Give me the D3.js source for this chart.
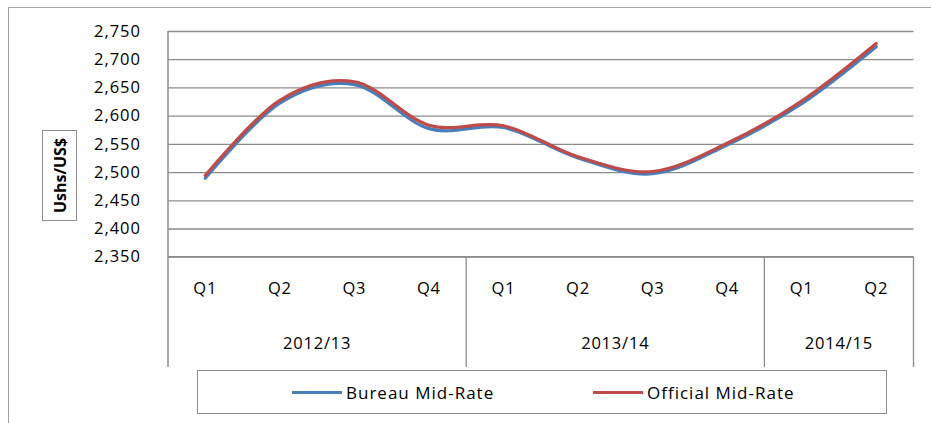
<!DOCTYPE html>
<html><head><meta charset="utf-8">
<script src="https://cdn.jsdelivr.net/npm/d3@7"></script>
<style>body{margin:0;background:#fff}svg{display:block}text{font-family:"Open Sans",sans-serif;fill:#000}</style>
</head><body>
<svg id="c" width="931" height="423"></svg>
<script>
const quarters = ["Q1","Q2","Q3","Q4","Q1","Q2","Q3","Q4","Q1","Q2"];
const years = [{label:"2012/13", n:4},{label:"2013/14", n:4},{label:"2014/15", n:2}];
const bureau = [2489, 2622, 2655, 2577, 2579, 2525, 2497, 2548, 2621, 2722];
const official = [2494, 2627, 2660, 2583, 2582, 2527, 2501, 2551, 2626, 2728];
const yTicks = [2350,2400,2450,2500,2550,2600,2650,2700,2750];
const seriesNames = ["Bureau Mid-Rate","Official Mid-Rate"];
const colors = ["#4A7EBB","#BE4B48"];

const svg = d3.select("#c");
const L = 168, R = 913.5, T = 31, B = 256.7, AX = 367;
const grid = "#8c8c8c";

// outer frame
svg.append("rect").attr("x",8.5).attr("y",7.5).attr("width",940).attr("height",440)
  .attr("fill","none").attr("stroke","#a6a6a6").attr("stroke-width",1);

const idx = d3.range(quarters.length);
const x = d3.scaleBand().domain(idx).range([L,R]);
const y = d3.scaleLinear().domain([2350,2750]).range([B,T]);

// gridlines
const yAxis = d3.axisLeft(y).tickValues(yTicks).tickSize(-(R-L)).tickFormat(d3.format(","));
const gy = svg.append("g").attr("transform",`translate(${L},0)`).call(yAxis);
gy.select(".domain").remove();
gy.selectAll(".tick line").attr("stroke",grid).attr("stroke-width",1.3);
gy.selectAll(".tick text").attr("x",-27).attr("font-size",16.5).attr("font-family","Open Sans").attr("letter-spacing","1px").attr("fill","#000");

// left axis line and category verticals
svg.append("line").attr("x1",L).attr("x2",L).attr("y1",T).attr("y2",AX).attr("stroke",grid).attr("stroke-width",1.5);
let acc = 0;
const bounds = [];
years.forEach(yr => { acc += yr.n; bounds.push(acc); });
bounds.forEach(b => {
  const xx = b === quarters.length ? R : x(b);
  svg.append("line").attr("x1",xx).attr("x2",xx).attr("y1",B).attr("y2",AX).attr("stroke",grid).attr("stroke-width",1.3);
});
svg.append("line").attr("x1",L).attr("x2",R).attr("y1",B).attr("y2",B).attr("stroke",grid).attr("stroke-width",1.5);

// quarter labels
svg.append("g").selectAll("text").data(quarters).join("text")
  .attr("x",(d,i)=>x(i)+x.bandwidth()/2).attr("y",294).attr("text-anchor","middle")
  .attr("font-size",16.5).attr("letter-spacing","0.8px").text(d=>d);
// year labels
let start = 0;
years.forEach(yr => {
  const x0 = x(start), x1 = start+yr.n === quarters.length ? R : x(start+yr.n);
  svg.append("text").attr("x",(x0+x1)/2).attr("y",349).attr("text-anchor","middle")
    .attr("font-size",16.5).attr("letter-spacing","0.8px").text(yr.label);
  start += yr.n;
});

// y title
svg.append("rect").attr("x",42.5).attr("y",130.5).attr("width",34).attr("height",90)
  .attr("fill","#fff").attr("stroke","#8c8c8c");
svg.append("text").attr("transform","translate(65.5,175.5) rotate(-90)").attr("text-anchor","middle")
  .attr("font-size",16).attr("font-weight","bold").text("Ushs/US$");

// lines
const line = d3.line().x((d,i)=>x(i)+x.bandwidth()/2).y(d=>y(d)).curve(d3.curveCardinal.tension(0));
[bureau, official].forEach((s,k)=>{
  svg.append("path").attr("d",line(s)).attr("fill","none").attr("stroke",colors[k])
    .attr("stroke-width",3.2).attr("stroke-linecap","round");
});

// legend
svg.append("rect").attr("x",197.5).attr("y",370.5).attr("width",689).attr("height",43)
  .attr("fill","#fff").attr("stroke","#8c8c8c");
const legX = [292, 593];
seriesNames.forEach((n,k)=>{
  svg.append("line").attr("x1",legX[k]).attr("x2",legX[k]+50).attr("y1",392.5).attr("y2",392.5)
    .attr("stroke",colors[k]).attr("stroke-width",3.2);
  svg.append("text").attr("x",legX[k]+54).attr("y",398.5).attr("font-size",17).attr("letter-spacing","1px").text(n);
});
</script>
</body></html>
